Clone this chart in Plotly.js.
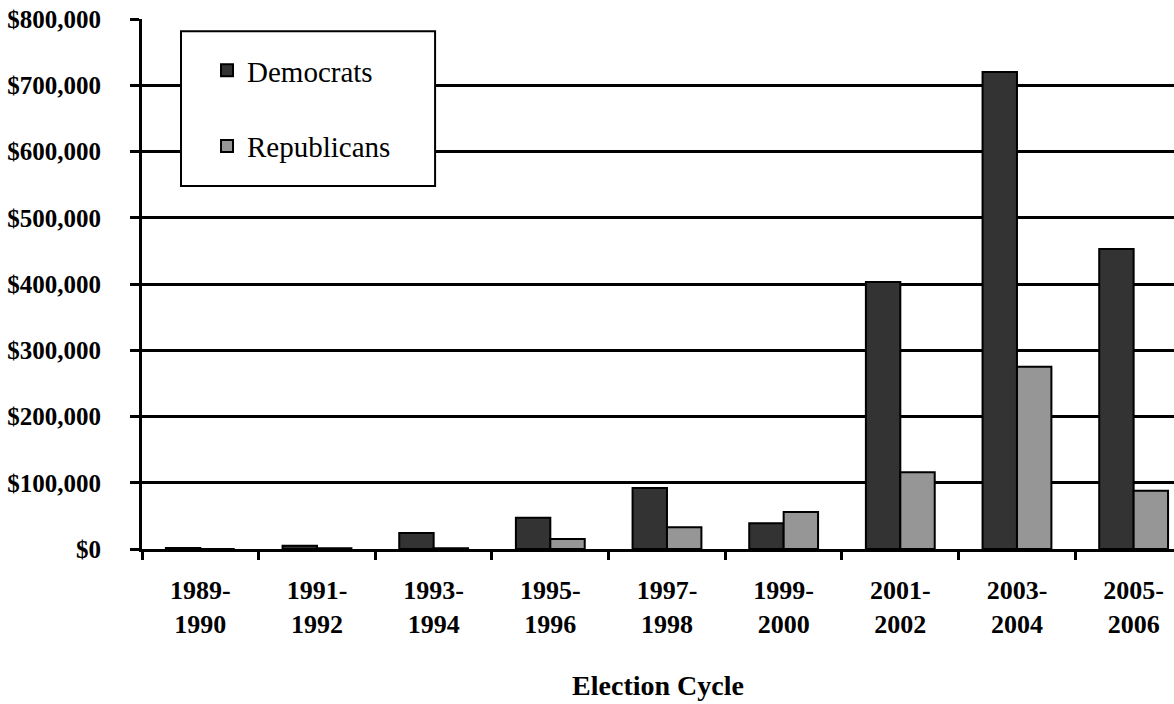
<!DOCTYPE html>
<html>
<head>
<meta charset="utf-8">
<script src="https://cdn.plot.ly/plotly-3.0.1.min.js"></script>
<style>html,body{margin:0;padding:0;background:#fff;}#chart{width:1174px;height:704px;}</style>
</head>
<body>
<div id="chart"></div>
<script>
const cycles = ["1989-<br>1990","1991-<br>1992","1993-<br>1994","1995-<br>1996","1997-<br>1998","1999-<br>2000","2001-<br>2002","2003-<br>2004","2005-<br>2006"];
const democrats = [1500, 5000, 24000, 47000, 92000, 39000, 403000, 720000, 453000];
const republicans = [0, 1000, 1000, 15000, 33000, 56000, 116000, 275000, 88000];
const yTicks = [0, 100000, 200000, 300000, 400000, 500000, 600000, 700000, 800000];

const serif = "'Liberation Serif', 'Times New Roman', serif";
const traces = [
  {type:'bar', name:'Democrats', x:cycles, y:democrats, legendgroup:'d',
   marker:{color:'#333333', line:{color:'#000', width:2}}},
  {type:'bar', name:'Republicans', x:cycles, y:republicans, legendgroup:'r',
   marker:{color:'#969696', line:{color:'#000', width:2}}}
];
const layout = {
  width:1174, height:704,
  margin:{l:142, r:0, t:19, b:155},
  paper_bgcolor:'#fff', plot_bgcolor:'#fff',
  font:{family:serif, color:'#000'},
  barmode:'group', bargap:0.41, bargroupgap:0,
  showlegend:true,
  legend:{x:0.063, y:0.951, xanchor:'left', yanchor:'top', bgcolor:'rgba(0,0,0,0)', borderwidth:0,
          traceorder:'grouped', tracegroupgap:35,
          font:{family:serif, size:29, color:'#000'}},
  xaxis:{type:'category', range:[-0.5, 8.346], tickson:'boundaries', ticks:'outside', ticklen:8, tickwidth:3, tickcolor:'#000',
         showline:true, linewidth:3, linecolor:'#000', showgrid:false, fixedrange:true,
         ticklabelstandoff:16,
         tickfont:{family:serif, size:26, color:'#000', weight:'bold'},
         title:{text:'Election Cycle', font:{family:serif, size:28, color:'#000', weight:'bold'}, standoff:38}},
  yaxis:{range:[0,800000], tickvals:yTicks, tickformat:'$,.0f', ticks:'outside', ticklen:9, tickwidth:3, tickcolor:'#000',
         showline:true, linewidth:3, linecolor:'#000', showgrid:true, gridcolor:'#000', gridwidth:3, zeroline:false,
         ticklabelstandoff:24, fixedrange:true,
         tickfont:{family:serif, size:25, color:'#000', weight:'bold'}},
  shapes:[{type:'rect', xref:'paper', yref:'paper', x0:0.0378, x1:0.284, y0:0.685, y1:0.977,
           line:{color:'#000', width:2}, fillcolor:'#fff', layer:'above'}]
};
Plotly.newPlot('chart', traces, layout, {displayModeBar:false, staticPlot:true});
</script>
</body>
</html>
